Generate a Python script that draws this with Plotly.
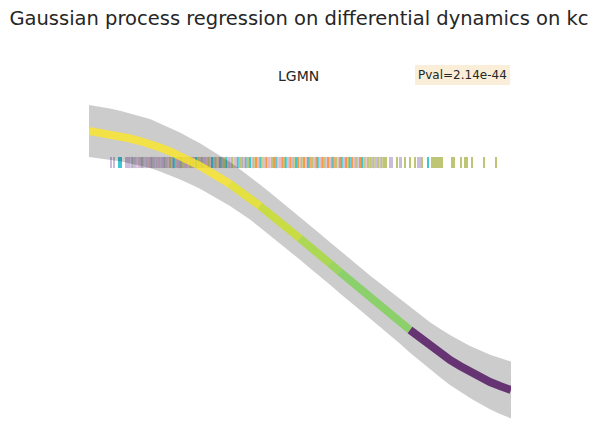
import plotly.graph_objects as go

# ---------------- data ----------------
title_text = "Gaussian process regression on differential dynamics on kc"
gene = "LGMN"
pval_text = "Pval=2.14e-44"

# GP mean and std along pseudotime
curve_t = [0, 5.5, 10.5, 15.5, 20.5, 25.5, 30.5, 35.5, 40.5, 45.5, 50.5, 55.5, 60.5, 65.5,
           70.5, 75.5, 80.5, 85.5, 90.5, 95.5, 100.5, 105.5, 110.5, 115.5, 120.5, 125.5,
           130.5, 135.5, 140.5, 145.5, 150.5, 155.5, 160.5, 165.5, 170.5, 175.5, 180.5,
           185.5, 190.5, 195.5, 200.5, 205.5, 211]
curve_mean = [0.94, 0.925, 0.91, 0.89, 0.865, 0.84, 0.815, 0.775, 0.735, 0.69, 0.64, 0.59,
              0.53, 0.47, 0.41, 0.34, 0.27, 0.19, 0.11, 0.03, -0.05, -0.135, -0.22, -0.30,
              -0.385, -0.47, -0.55, -0.635, -0.72, -0.80, -0.88, -0.965, -1.05, -1.13,
              -1.21, -1.28, -1.35, -1.41, -1.47, -1.52, -1.57, -1.61, -1.65]
curve_std = [0.26, 0.258, 0.255, 0.252, 0.25, 0.247, 0.244, 0.24, 0.237, 0.234, 0.23, 0.227,
             0.224, 0.222, 0.22, 0.218, 0.216, 0.215, 0.214, 0.213, 0.213, 0.213, 0.213,
             0.213, 0.213, 0.214, 0.214, 0.215, 0.216, 0.218, 0.22, 0.223, 0.227, 0.232,
             0.237, 0.243, 0.249, 0.255, 0.261, 0.267, 0.273, 0.279, 0.285]
# colour of each interval between consecutive curve points
interval_color = (["Y"] * 14 + ["Y2"] * 3 + ["YG"] * 4 + ["G1"] * 3 + ["G2"] * 1
                  + ["G"] * 7 + ["P"] * 10)

# rug of cells (pseudotime, cell type)
rug_t = [11, 12.5, 15, 16, 18.5,
         19.5, 20.4, 21.6, 22.5, 23.4, 24.6, 25.5, 26.5, 27.4, 28.6, 29.5, 30.5, 31.4, 32.5,
         33.6, 34.5, 35.4, 36.5, 37.6, 38.5, 39.4,
         40.5, 41.6, 42.4, 43.5, 44.5, 45.6, 46.4, 47.5, 48.5, 49.4, 50.6, 51.5, 52.4, 53.5,
         54.6, 55.5, 56.4, 57.5, 58.5, 59.6, 60.4, 61.5, 62.5, 63.4, 64.6, 65.5, 66.4, 67.5,
         68.6, 69.5,
         70.4, 71.5, 72.6, 73.5, 74.4, 75.5, 76.6, 77.5, 78.4, 79.5, 80.5, 81.6, 82.4, 83.5,
         84.5, 85.6, 86.4, 87.5, 88.6, 89.5, 90.4, 91.5, 92.5, 93.6, 94.4, 95.5, 96.6, 97.5,
         98.4, 99.5,
         100.6, 101.5, 102.4, 103.5, 104.5, 105.6, 106.4, 107.5, 108.6, 109.5, 110.4, 111.5,
         112.5, 113.6, 114.4, 115.5, 116.6, 117.5, 118.4, 119.5, 120.5, 121.6, 122.4, 123.5,
         124.6, 125.5, 126.4, 127.5, 128.5, 129.6,
         130.4, 131.5, 132.6, 133.5, 134.4, 135.5, 136.5, 137.6, 138.4, 139.5, 140.6, 141.5,
         142.4, 143.5, 144.5, 145.6, 146.4, 147.5, 148.5,
         150.5, 151.5, 154, 155.5, 156, 158, 160.5, 163, 164.5, 165.5, 166.5, 169.5, 171.5,
         172.5, 173.5, 174.5, 175.5, 176.5, 181.5, 182.5, 186, 188, 189, 191.5, 197.5, 203.5]
rug_type = ("AACCA"
            "AAGAAPAGAAPAGAAPAAGAP"
            "OACPAGOPAPOPACOPGAPOPCAOPTGOCP"
            "AOPPCOGPTOCPORPCOPRPPORCPPROCP"
            "RAOCRPORPCROPRCPROARPCROPRCPRO"
            "CRPOARCOPOOAOAOAOOO"
            "AAOAAOOOAAOCOOOOOOOOOOOOOO")

# ---------------- styles ----------------
line_colors = {"Y": "rgba(253,231,37,0.8)", "Y2": "rgba(232,229,30,0.8)",
               "YG": "rgba(200,224,34,0.8)", "G1": "rgba(165,219,54,0.8)",
               "G2": "rgba(143,215,68,0.8)", "G": "rgba(122,209,81,0.8)",
               "P": "rgba(68,1,84,0.75)"}
rug_colors = {"A": "#c3b0d6", "P": "#dcb2c4", "O": "#b3bd5e", "C": "#1fbccd",
              "R": "#f5892a", "G": "#a3a3a3", "T": "#5aa9b5"}

FONT = "DejaVu Sans, Liberation Sans, sans-serif"

fig = go.Figure()

n = min(len(rug_t), len(rug_type))
fig.add_trace(go.Scatter(
    x=rug_t[:n], y=[0.625] * n, mode="markers", opacity=0.85,
    marker=dict(symbol="line-ns", size=8,
                line=dict(width=2, color=[rug_colors[c] for c in rug_type[:n]])),
    hoverinfo="skip", showlegend=False))

upper = [m + s for m, s in zip(curve_mean, curve_std)]
lower = [m - s for m, s in zip(curve_mean, curve_std)]
fig.add_trace(go.Scatter(x=curve_t, y=upper, mode="lines",
                         line=dict(width=0, color="rgba(0,0,0,0)"),
                         hoverinfo="skip", showlegend=False))
fig.add_trace(go.Scatter(x=curve_t, y=lower, mode="lines", fill="tonexty",
                         fillcolor="rgba(0,0,0,0.2)",
                         line=dict(width=0, color="rgba(0,0,0,0)"),
                         hoverinfo="skip", showlegend=False))

# coloured mean line, grouped into runs of equal colour
i = 0
while i < len(interval_color):
    j = i
    while j + 1 < len(interval_color) and interval_color[j + 1] == interval_color[i]:
        j += 1
    fig.add_trace(go.Scatter(x=curve_t[i:j + 2], y=curve_mean[i:j + 2], mode="lines",
                             line=dict(width=8, color=line_colors[interval_color[i]]),
                             hoverinfo="skip", showlegend=False))
    i = j + 1

fig.update_xaxes(range=[0, 211], visible=False)
fig.update_yaxes(range=[-2.0, 1.3], visible=False)

fig.update_layout(
    width=598, height=446,
    margin=dict(l=89, r=87, t=95, b=21),
    paper_bgcolor="white", plot_bgcolor="white",
    font=dict(family=FONT, color="#262626"),
    title=dict(text=title_text, x=0.5, xanchor="center", xref="container",
               y=0.96, yanchor="middle", yref="container",
               font=dict(size=19.5, family=FONT, color="#262626")),
    annotations=[
        dict(text=gene, x=0.4976, y=1.0576, xref="paper", yref="paper",
             showarrow=False, xanchor="center", yanchor="middle",
             font=dict(size=14, family=FONT, color="#262626")),
        dict(text=pval_text, x=0.885, y=1.0606, xref="paper", yref="paper",
             showarrow=False, xanchor="center", yanchor="middle",
             bgcolor="#faeed9", borderpad=3, borderwidth=0,
             font=dict(size=12, family=FONT, color="#262626")),
    ],
)

fig.write_html("out.html")
